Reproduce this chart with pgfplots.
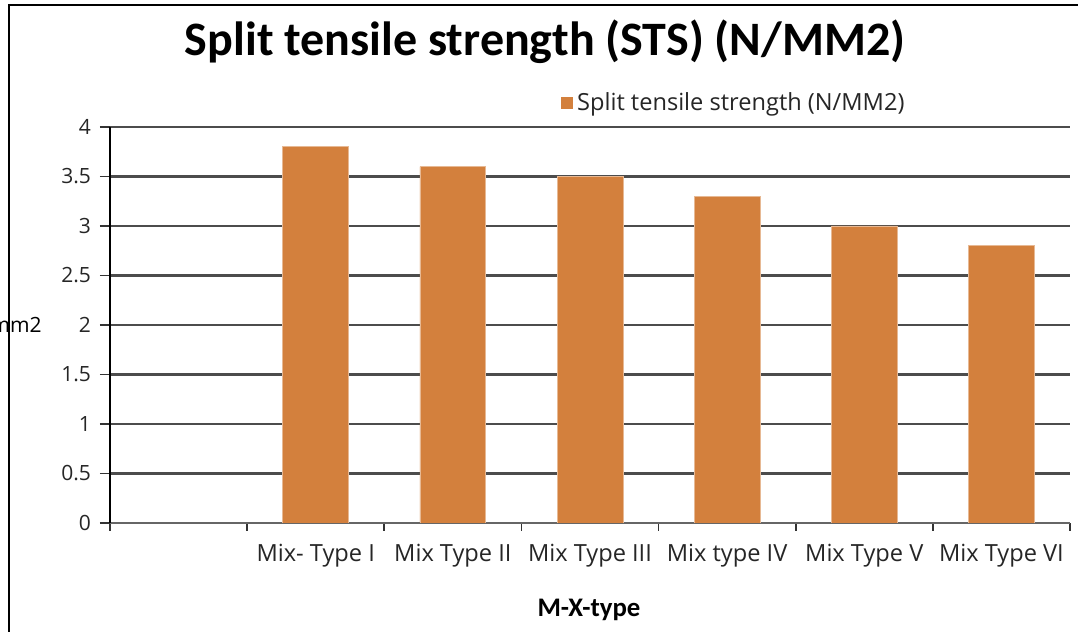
\documentclass[border=0pt]{standalone}
\usepackage{fontspec}
\setmainfont{Open Sans}
\newfontfamily\titlefont{Carlito}
\usepackage{pgfplots}
\pgfplotsset{compat=1.18}
\definecolor{barorange}{RGB}{211,128,61}
\begin{document}
\begin{tikzpicture}
\useasboundingbox (0,0) rectangle (539pt,316pt);
\fill[white] (0,0) rectangle (539pt,316pt);
\begin{axis}[
  at={(55pt,54.5pt)}, anchor=south west,
  scale only axis, width=480pt, height=198pt,
  xmin=-0.5, xmax=6.5, ymin=0, ymax=4,
  ybar, bar width=0.48,
  ytick={0,0.5,...,4},
  ymajorgrids, grid style={black!70, line width=1.1pt},
  xtick={1,...,6},
  xticklabels={Mix- Type I, Mix Type II, Mix Type III, Mix type IV, Mix Type V, Mix Type VI},
  major x tick style={draw=none},
  minor xtick={-0.5,0.5,...,6.5},
  minor x tick style={black!80, line width=0.8pt},
  major y tick style={black!80, line width=0.8pt},
  tick align=outside,
  major tick length=5pt, minor tick length=4pt,
  axis x line*=bottom, axis y line*=left,
  x axis line style={black!60, line width=1pt},
  y axis line style={black, line width=1pt},
  /pgf/number format/assume math mode=true,
  /pgf/number format/.cd, use period, 1000 sep={}, /pgfplots/.cd,
  yticklabel style={font=\fontsize{10.5}{12}\selectfont, text=black!85, xshift=-1pt},
  xticklabel style={font=\fontsize{11.8}{14}\selectfont, text=black!85, yshift=-2pt},
  legend style={at={(0.4635,1.0606)}, anchor=west, draw=none, fill=none,
    font=\fontsize{11.8}{14}\selectfont, text=black!85},
  legend image code/.code={\fill[barorange] (-1.5pt,-2.75pt) rectangle (4pt,2.75pt);},
]
\addplot[fill=barorange, draw=barorange!55!white, line width=0.4pt]
  coordinates {(1,3.8) (2,3.6) (3,3.5) (4,3.3) (5,3.0) (6,2.8)};
\addlegendentry{Split tensile strength (N/MM2)}
\end{axis}
\node at (272.5pt,295pt) {\titlefont\bfseries\fontsize{24}{28}\selectfont Split tensile strength (STS) (N/MM2)};
\node at (294.5pt,11pt) {\titlefont\bfseries\fontsize{13.4}{15}\selectfont M-X-type};
\node[anchor=east, inner sep=0pt] at (21pt,153.5pt) {\fontsize{10.5}{12}\selectfont N/mm2};
\draw[line width=1pt] (4.5pt,-5pt) rectangle (545pt,313.5pt);
\end{tikzpicture}
\end{document}
